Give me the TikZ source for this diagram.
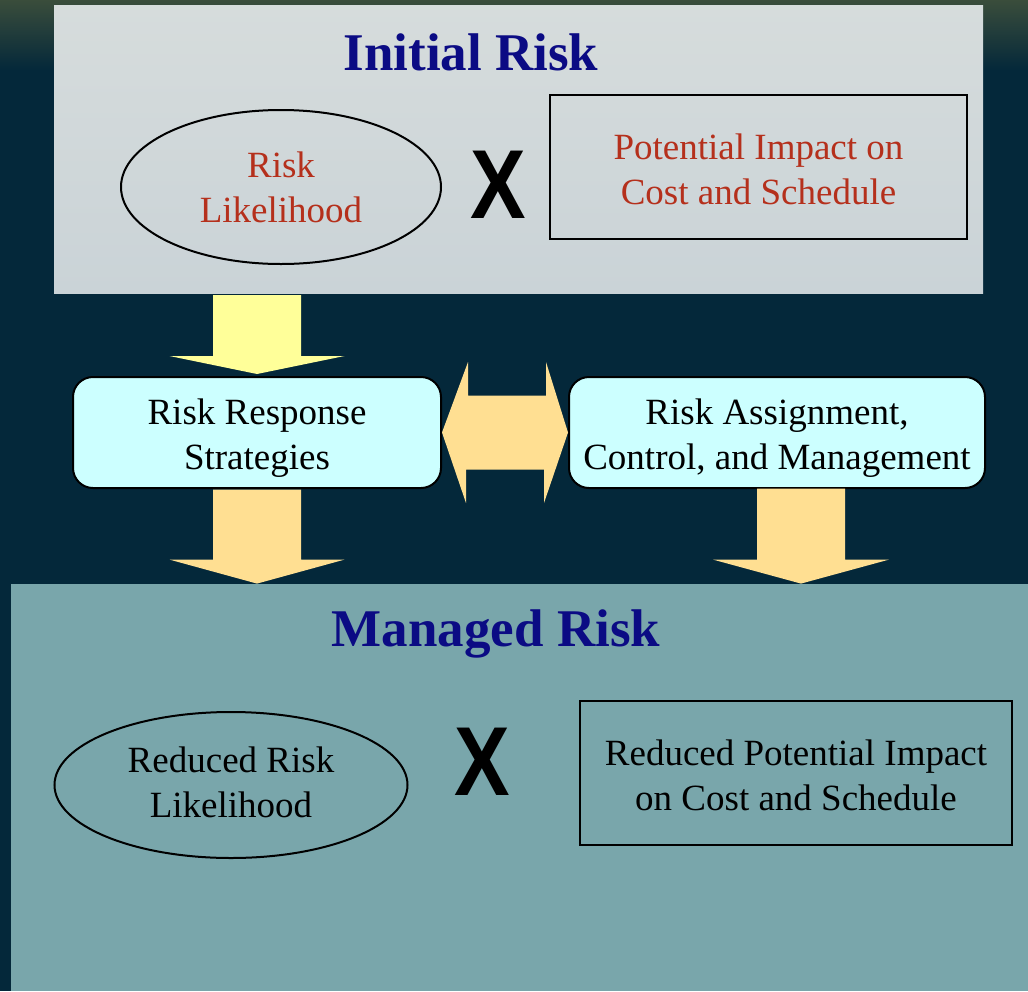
\documentclass[tikz,border=0pt]{standalone}
\usepackage{fontspec}
\setmainfont{Liberation Serif}
\newfontfamily\crossfont{Liberation Sans}
\usetikzlibrary{calc,shapes.geometric}
\definecolor{bgnavy}{HTML}{04283A}
\definecolor{bgtop}{HTML}{3A4D3B}
\definecolor{panelgray}{HTML}{D6DCDC}
\definecolor{panelgraylow}{HTML}{CAD3D7}
\definecolor{panelteal}{HTML}{79A6AB}
\definecolor{titlenavy}{HTML}{0B0B84}
\definecolor{riskred}{HTML}{B5301C}
\definecolor{boxcyan}{HTML}{CCFFFF}
\definecolor{paleyellow}{HTML}{FFFF99}
\definecolor{peach}{HTML}{FFDF92}
\newcommand{\bodysize}{\fontsize{18.5}{22.5}\selectfont}
% taller first line pushes the box text down a little
\newcommand{\lowerline}{\rule{0pt}{18.5pt}}
\tikzset{
  panel/.style={rectangle,draw=none,inner sep=0pt},
  headline/.style={font=\fontsize{26.5}{30}\selectfont\bfseries,text=titlenavy,inner sep=0pt},
  riskoval/.style={ellipse,draw=black,line width=1pt,align=center,
                   inner sep=0pt,font=\bodysize},
  impactbox/.style={rectangle,draw=black,line width=1.2pt,align=center,
                    inner sep=0pt,font=\bodysize},
  stratbox/.style={rectangle,rounded corners=10pt,draw=black,line width=1pt,
                   fill=boxcyan,align=center,inner sep=0pt,font=\bodysize},
  crossmark/.style={font=\crossfont\fontsize{49}{49}\selectfont\bfseries,inner sep=0pt},
  fatarrow/.style={fill=peach,draw=none}
}

\begin{document}
\begin{tikzpicture}[x=0.5pt,y=-0.5pt]
  \useasboundingbox (0,0) rectangle (1028,991);
  \fill[bgnavy] (0,0) rectangle (1028,991);
  \shade[top color=bgtop,bottom color=bgnavy] (0,0) rectangle (1028,70);

  % upper panel
  \node[panel,top color=panelgray,bottom color=panelgraylow,
        minimum width=464.5pt,minimum height=144pt] (initial) at (518.5,149) {};
  \node[headline] (t1) at (471,52) {Initial Risk};
  \node[riskoval,text=riskred,minimum width=160pt,minimum height=77pt] (likely) at (281,187)
    {Risk\\Likelihood};
  \node[crossmark] (x1) at (498,185) {\scalebox{0.85}[1]{X}};
  \node[impactbox,text=riskred,minimum width=208.5pt,minimum height=72pt] (impact) at (758.5,167)
    {\rule{0pt}{15pt}Potential Impact on\\Cost and Schedule};

  % lower panel
  \node[panel,fill=panelteal,minimum width=508.5pt,minimum height=203.5pt] (managed) at (519.5,787.5) {};
  \node[headline] (t2) at (496,634) {Managed Risk};
  \node[riskoval,minimum width=176.5pt,minimum height=73pt] (redlikely) at (231,785)
    {Reduced Risk\\Likelihood\rule[-3pt]{0pt}{0pt}};
  \node[crossmark] (x2) at (482,762) {\scalebox{0.85}[1]{X}};
  \node[impactbox,minimum width=216pt,minimum height=72pt] (redimpact) at (796,773)
    {\rule{0pt}{15pt}Reduced Potential Impact\\on Cost and Schedule};

  % middle row
  \node[stratbox,minimum width=184pt,minimum height=55.5pt] (resp) at (257,432.5)
    {\lowerline Risk Response\\Strategies};
  \node[stratbox,minimum width=208pt,minimum height=55.5pt] (assign) at (777,432.5)
    {\lowerline Risk Assignment,\\Control, and Management};

  % block arrows
  \coordinate (a1) at ($(resp.north)+(0,-2)$);
  \fill[fatarrow,fill=paleyellow] (a1) -- ++(-87.5,-18) -- ++(43.5,0) -- ++(0,-61)
    -- ++(88,0) -- ++(0,61) -- ++(43.5,0) -- cycle;
  \coordinate (a2) at (resp.south |- managed.north);
  \fill[fatarrow] (a2) -- ++(-87.5,-24) -- ++(43.5,0) -- ++(0,-70)
    -- ++(88,0) -- ++(0,70) -- ++(43.5,0) -- cycle;
  \coordinate (a3) at ($(assign.south |- managed.north)+(24,0)$);
  \fill[fatarrow] (a3) -- ++(-88,-24) -- ++(44,0) -- ++(0,-71)
    -- ++(88,0) -- ++(0,71) -- ++(44,0) -- cycle;
  \fill[fatarrow] (resp.east) -- ++(26,-70.5) -- ++(0,33.5) -- ++(78,0) -- ++(0,-33.5)
    -- (assign.west) -- ++(-24,70.5) -- ++(0,-33.5) -- ++(-78,0) -- ++(0,33.5) -- cycle;
\end{tikzpicture}
\end{document}
